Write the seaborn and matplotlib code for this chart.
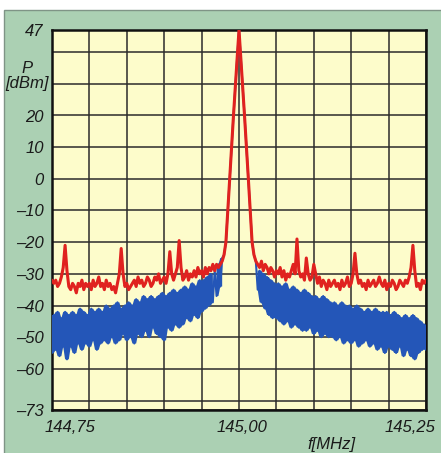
import numpy as np
import pandas as pd
import matplotlib
matplotlib.use("Agg")
import matplotlib.pyplot as plt
import matplotlib.transforms as mtransforms
from matplotlib.patches import Rectangle
import seaborn as sns

# ---------------- data ----------------
f_start = 144.75
f_step = 0.0025
n_points = 201

red_dbm = [
    -32, -33, -32, -34, -33, -31, -28, -21, -29, -34,
    -35, -33, -34, -36, -33, -34, -32, -35, -33, -34,
    -33, -35, -32, -34, -33, -31, -34, -33, -35, -32,
    -34, -33, -35, -34, -36, -33, -30, -22, -30, -34,
    -33, -35, -34, -33, -32, -34, -31, -33, -32, -34,
    -33, -31, -32, -34, -33, -31, -32, -30, -33, -32,
    -31, -33, -30, -23, -30, -32, -30, -28, -19.5, -28,
    -32, -31, -29, -32, -30, -31, -29, -31, -28, -30,
    -29, -31, -28, -30, -28, -29, -27, -29, -27, -28,
    -27, -26, -24, -20, -10, 0, 10, 19.5, 29, 38,
    47,
    38, 29, 19.5, 10, 0, -10, -20, -24, -26, -27,
    -28, -26, -29, -27, -28, -30, -28, -29, -31, -29,
    -30, -28, -31, -29, -32, -30, -31, -29, -27, -30,
    -19, -29, -31, -30, -32, -25, -30, -32, -31, -27,
    -30, -33, -31, -34, -32, -33, -35, -32, -34, -33,
    -32, -34, -33, -35, -32, -34, -33, -31, -34, -33,
    -30, -23.5, -30, -33, -32, -34, -33, -35, -32, -34,
    -33, -32, -34, -33, -31, -33, -34, -32, -35, -33,
    -34, -32, -33, -35, -34, -32, -33, -34, -32, -33,
    -31, -28, -21, -29, -34, -33, -35, -32, -33, -32,
]

blue_dbm = [
    -55, -43, -54, -42, -56, -44, -53, -42, -57, -43,
    -53, -42, -55, -43, -52, -41, -54, -42, -52, -43,
    -53, -41, -51, -42, -54, -41, -52, -42, -51, -40,
    -52, -41, -50, -40, -52, -39, -51, -41, -49, -40,
    -51, -39, -50, -40, -52, -38, -49, -39, -50, -37,
    -48, -38, -50, -37, -47, -38, -49, -37, -50, -36,
    -51, -37, -47, -36, -48, -35, -46, -36, -47, -35,
    -46, -34, -44, -35, -45, -33, -43, -34, -44, -32,
    -42, -32, -41, -31, -40, -30, -39, -29, -37, -27,
    -34, -25, -24, -20, -10, 0, 10, 19.5, 29, 38,
    47,
    38, 29, 19.5, 10, 0, -10, -20, -24, -26, -35,
    -29, -39, -30, -41, -31, -43, -32, -44, -33, -44,
    -33, -45, -34, -46, -33, -45, -35, -47, -34, -46,
    -35, -47, -36, -48, -35, -48, -36, -47, -37, -49,
    -37, -48, -38, -50, -37, -49, -38, -50, -39, -50,
    -39, -51, -40, -50, -39, -52, -40, -51, -40, -52,
    -41, -51, -40, -53, -41, -52, -42, -51, -41, -53,
    -42, -52, -41, -54, -42, -53, -42, -55, -42, -53,
    -43, -54, -42, -55, -43, -53, -44, -56, -43, -54,
    -44, -56, -43, -57, -44, -55, -45, -54, -46, -54,
]

freq_mhz = f_start + f_step * np.arange(n_points)

x_ticks = [144.75, 144.80, 144.85, 144.90, 144.95, 145.00,
           145.05, 145.10, 145.15, 145.20, 145.25]
x_labels = ["144,75", "", "", "", "", "145,00", "", "", "", "", "145,25"]
y_ticks = [47, 40, 30, 20, 10, 0, -10, -20, -30, -40, -50, -60, -70, -73]
y_labels = ["47", "", "", "20", "10", "0", "–10", "–20", "–30", "–40",
            "–50", "–60", "", "–73"]

df = pd.DataFrame({"f": freq_mhz, "red": red_dbm, "blue": blue_dbm})
# noise part of the blue trace (where it is not hidden under the carrier)
noise = df["blue"].where(df["blue"] != df["red"])
df["blue_hi"] = noise.rolling(3, center=True, min_periods=1).max()
df["blue_lo"] = noise.rolling(3, center=True, min_periods=1).min()
noise_mask = noise.notna()

# ---------------- figure ----------------
W, H = 441, 453
green = "#abd0b3"
yellow = "#fdfccb"
red_c = "#e0221f"
blue_c = "#2456b8"
grid_c = "#2b2b2b"

sns.set_style("white")
plt.rcParams["font.family"] = ["Liberation Sans", "DejaVu Sans"]

fig = plt.figure(figsize=(W / 100, H / 100), dpi=100)
fig.patch.set_facecolor("white")
bg = Rectangle((4 / W, -0.02), 1.1, (H - 10) / H + 0.02,
               transform=fig.transFigure, facecolor=green,
               edgecolor="#7f9486", lw=1.0, zorder=-10)
fig.patches.append(bg)

ax = fig.add_axes([52 / W, 1 - 410 / H, 374 / W, 380 / H])
ax.set_zorder(1)
ax.set_facecolor(yellow)

ax.fill_between(df["f"], df["blue_lo"], df["blue_hi"], where=noise_mask,
                color=blue_c, lw=0, zorder=3)
sns.lineplot(data=df, x="f", y="blue", ax=ax, color=blue_c, lw=1.5,
             estimator=None, sort=False, zorder=3)
sns.lineplot(data=df, x="f", y="red", ax=ax, color=red_c, lw=2.2,
             estimator=None, sort=False, zorder=4)

ax.set_xlim(144.75, 145.25)
ax.set_ylim(-73, 47)
ax.set_xlabel("")
ax.set_ylabel("")

ax.set_xticks(x_ticks)
ax.set_xticklabels(x_labels, fontsize=12, style="italic", color="#1a1a1a")
ax.set_yticks(y_ticks)
ax.set_yticklabels(y_labels, fontsize=12, style="italic", color="#1a1a1a")
ax.tick_params(axis="both", length=0)
ax.tick_params(axis="x", pad=7)
ax.tick_params(axis="y", pad=6)

xl = ax.get_xticklabels()
xl[0].set_horizontalalignment("left")
xl[0].set_transform(xl[0].get_transform() +
                    mtransforms.ScaledTranslation(-7 / 100, 0, fig.dpi_scale_trans))
xl[5].set_transform(xl[5].get_transform() +
                    mtransforms.ScaledTranslation(3 / 100, 0, fig.dpi_scale_trans))
xl[-1].set_horizontalalignment("right")
xl[-1].set_transform(xl[-1].get_transform() +
                     mtransforms.ScaledTranslation(9 / 100, 0, fig.dpi_scale_trans))

ax.grid(True, color=grid_c, lw=1.1, zorder=1)
ax.set_axisbelow(True)
for s in ax.spines.values():
    s.set_visible(True)
    s.set_color("#111111")
    s.set_linewidth(1.8)

fig.text(27 / W, 1 - 76 / H, "P\n[dBm]", ha="center", va="center",
         fontsize=12, style="italic", color="#1a1a1a", linespacing=0.95)
fig.text(332 / W, 1 - 445 / H, "f[MHz]", ha="center", va="center",
         fontsize=12, style="italic", color="#1a1a1a")

fig.savefig("out.png", dpi=100, facecolor=fig.get_facecolor())
